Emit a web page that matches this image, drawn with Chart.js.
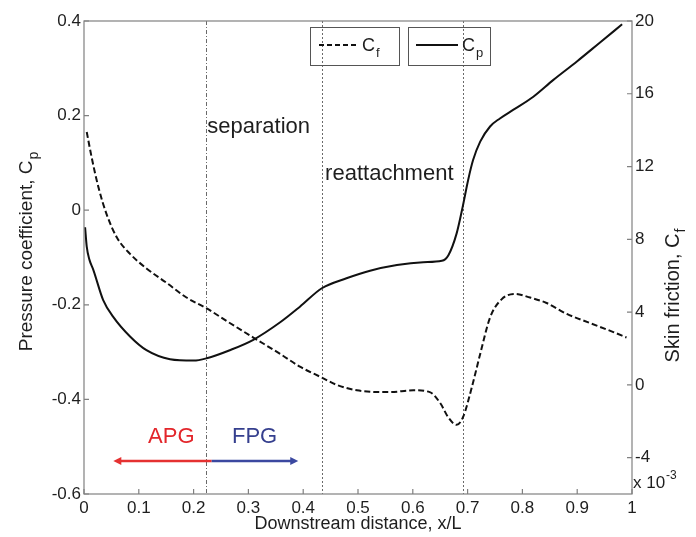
<!DOCTYPE html>
<html>
<head>
<meta charset="utf-8">
<script src="https://cdn.jsdelivr.net/npm/chart.js@4"></script>
<style>
  html, body { margin: 0; padding: 0; background: #fff; }
  #wrap { width: 696px; height: 537px; }
</style>
</head>
<body>
<div id="wrap"><canvas id="chart" width="696" height="537"></canvas></div>
<script>
// pressure coefficient along the plate
const cpX = [0.002, 0.005, 0.01, 0.017, 0.035, 0.053, 0.084, 0.114, 0.157, 0.2, 0.224, 0.266, 0.309, 0.358, 0.394, 0.434, 0.479, 0.522, 0.571, 0.619, 0.653, 0.665, 0.68, 0.691, 0.701, 0.71, 0.723, 0.741, 0.759, 0.783, 0.82, 0.856, 0.9, 0.94, 0.982];
const cpY = [-0.036, -0.077, -0.105, -0.126, -0.19, -0.225, -0.267, -0.296, -0.315, -0.318, -0.313, -0.296, -0.274, -0.237, -0.204, -0.165, -0.144, -0.128, -0.116, -0.11, -0.107, -0.095, -0.049, 0.007, 0.064, 0.106, 0.145, 0.177, 0.194, 0.212, 0.24, 0.275, 0.315, 0.353, 0.393];

// skin friction, in units of 1e-3
const cfX = [0.005, 0.014, 0.026, 0.041, 0.06, 0.084, 0.114, 0.151, 0.187, 0.224, 0.266, 0.309, 0.358, 0.394, 0.434, 0.461, 0.498, 0.558, 0.601, 0.631, 0.65, 0.665, 0.68, 0.692, 0.708, 0.723, 0.741, 0.762, 0.786, 0.814, 0.844, 0.881, 0.923, 0.966, 0.99];
const cfY = [13.9, 12.5, 10.9, 9.4, 8.1, 7.2, 6.4, 5.6, 4.8, 4.2, 3.4, 2.6, 1.7, 1.0, 0.4, 0.0, -0.3, -0.4, -0.3, -0.4, -1.0, -1.8, -2.2, -1.75, -0.1, 1.7, 3.7, 4.7, 5.0, 4.8, 4.5, 3.9, 3.4, 2.9, 2.6];

const cfTicks = [-4, 0, 4, 8, 12, 16, 20];

// separation / reattachment / end of bubble
const refLines = [0.222, 0.435, 0.691];
const labels = [
  { text: 'separation', x: 0.225, y: 0.163 },
  { text: 'reattachment', x: 0.44, y: 0.064 }
];
const gradLabels = [
  { text: 'APG', x: 0.117, y: -0.492, color: '#e3262b' },
  { text: 'FPG', x: 0.27, y: -0.492, color: '#353f8e' }
];
const arrowY = -0.53;
const arrowFrom = 0.0535, arrowSplit = 0.233, arrowTo = 0.391;

const FONT = '"Liberation Sans", Arial, sans-serif';
const INK = '#1e1e1e';
const AXIS = '#808080';

const toPts = (xs, ys) => xs.map((x, i) => ({ x, y: ys[i] }));
const fmt = v => String(Number(v.toFixed(1)));

// text with a subscript, drawn from (x, y) on the baseline
function subText(ctx, x, y, main, sub, size, subSize, drop, center) {
  ctx.font = size + 'px ' + FONT;
  const w1 = ctx.measureText(main).width;
  ctx.font = subSize + 'px ' + FONT;
  const w2 = ctx.measureText(sub).width;
  let x0 = center ? x - (w1 + w2) / 2 : x;
  ctx.textAlign = 'left';
  ctx.textBaseline = 'alphabetic';
  ctx.font = size + 'px ' + FONT;
  ctx.fillText(main, x0, y);
  ctx.font = subSize + 'px ' + FONT;
  ctx.fillText(sub, x0 + w1 + 1, y + drop);
}

function arrowHead(ctx, x, y, dir, color) {
  ctx.fillStyle = color;
  ctx.beginPath();
  ctx.moveTo(x, y);
  ctx.lineTo(x - dir * 8, y - 4);
  ctx.lineTo(x - dir * 8, y + 4);
  ctx.closePath();
  ctx.fill();
}

const decor = {
  id: 'decor',
  beforeDatasetsDraw(chart) {
    const { ctx, chartArea: a, scales } = chart;
    const xs = scales.x, ys = scales.y;
    ctx.save();
    ctx.strokeStyle = '#6a6a6a';
    ctx.lineWidth = 1;
    refLines.forEach((v, i) => {
      const px = Math.round(xs.getPixelForValue(v)) + 0.5;
      ctx.setLineDash(i === 0 ? [4, 2, 1, 2] : [2, 2]);
      ctx.beginPath();
      ctx.moveTo(px, a.top);
      ctx.lineTo(px, a.bottom);
      ctx.stroke();
    });
    ctx.setLineDash([]);

    ctx.fillStyle = INK;
    ctx.font = '22px ' + FONT;
    ctx.textAlign = 'left';
    ctx.textBaseline = 'alphabetic';
    labels.forEach(l => ctx.fillText(l.text, xs.getPixelForValue(l.x), ys.getPixelForValue(l.y)));
    gradLabels.forEach(l => {
      ctx.fillStyle = l.color;
      ctx.fillText(l.text, xs.getPixelForValue(l.x), ys.getPixelForValue(l.y));
    });

    // adverse / favourable pressure gradient arrow
    const ay = ys.getPixelForValue(arrowY);
    const x0 = xs.getPixelForValue(arrowFrom);
    const x1 = xs.getPixelForValue(arrowSplit);
    const x2 = xs.getPixelForValue(arrowTo);
    ctx.lineWidth = 2.5;
    ctx.strokeStyle = '#e53131';
    ctx.beginPath(); ctx.moveTo(x0 + 4, ay); ctx.lineTo(x1, ay); ctx.stroke();
    ctx.strokeStyle = '#3b48a0';
    ctx.beginPath(); ctx.moveTo(x1, ay); ctx.lineTo(x2 - 4, ay); ctx.stroke();
    arrowHead(ctx, x0, ay, -1, '#e53131');
    arrowHead(ctx, x2, ay, 1, '#3b48a0');
    ctx.restore();
  },
  afterDraw(chart) {
    const { ctx, chartArea: a, scales } = chart;
    ctx.save();
    // axes box and inward ticks
    ctx.strokeStyle = AXIS;
    ctx.lineWidth = 1.2;
    ctx.strokeRect(a.left, a.top, a.right - a.left, a.bottom - a.top);
    ctx.beginPath();
    scales.x.ticks.forEach(t => {
      const px = scales.x.getPixelForValue(t.value);
      ctx.moveTo(px, a.bottom); ctx.lineTo(px, a.bottom - 5);
    });
    scales.y.ticks.forEach(t => {
      const py = scales.y.getPixelForValue(t.value);
      ctx.moveTo(a.left, py); ctx.lineTo(a.left + 5, py);
    });
    scales.y1.ticks.forEach(t => {
      const py = scales.y1.getPixelForValue(t.value);
      ctx.moveTo(a.right, py); ctx.lineTo(a.right - 5, py);
    });
    ctx.stroke();

    // legend boxes
    ctx.strokeStyle = '#555';
    ctx.lineWidth = 1;
    ctx.strokeRect(310.5, 27.5, 89, 38);
    ctx.strokeRect(408.5, 27.5, 82, 38);
    ctx.strokeStyle = '#111';
    ctx.lineWidth = 2;
    ctx.setLineDash([5, 3]);
    ctx.beginPath(); ctx.moveTo(319, 45); ctx.lineTo(359, 45); ctx.stroke();
    ctx.setLineDash([]);
    ctx.beginPath(); ctx.moveTo(416, 45); ctx.lineTo(458, 45); ctx.stroke();
    ctx.fillStyle = INK;
    subText(ctx, 362, 51, 'C', 'f', 18, 13, 6, false);
    subText(ctx, 462, 51, 'C', 'p', 18, 13, 6, false);

    // axis titles
    ctx.font = '18px ' + FONT;
    ctx.textAlign = 'center';
    ctx.textBaseline = 'middle';
    ctx.fillText('Downstream distance, x/L', (a.left + a.right) / 2, 524);

    ctx.save();
    ctx.translate(32, 252);
    ctx.rotate(-Math.PI / 2);
    subText(ctx, 0, 0, 'Pressure coefficient, C', 'p', 19, 14, 6, true);
    ctx.restore();

    ctx.save();
    ctx.translate(679, 296);
    ctx.rotate(-Math.PI / 2);
    subText(ctx, 0, 0, 'Skin friction, C', 'f', 20, 14, 6, true);
    ctx.restore();

    // exponent of the right axis
    ctx.font = '17px ' + FONT;
    ctx.textAlign = 'left';
    ctx.textBaseline = 'alphabetic';
    ctx.fillText('x 10', 633, 488);
    ctx.font = '12px ' + FONT;
    ctx.fillText('-3', 666, 479);
    ctx.restore();
  }
};

const tickFont = { family: FONT, size: 17 };

new Chart(document.getElementById('chart'), {
  type: 'line',
  data: {
    datasets: [
      {
        label: 'Cp',
        data: toPts(cpX, cpY),
        yAxisID: 'y',
        borderColor: '#111',
        borderWidth: 2,
        pointRadius: 0,
        cubicInterpolationMode: 'monotone',
        fill: false
      },
      {
        label: 'Cf',
        data: toPts(cfX, cfY),
        yAxisID: 'y1',
        borderColor: '#111',
        borderWidth: 2,
        borderDash: [6, 3],
        pointRadius: 0,
        cubicInterpolationMode: 'monotone',
        fill: false
      }
    ]
  },
  options: {
    responsive: false,
    animation: false,
    layout: { padding: { top: 21, left: 0, right: 0, bottom: 0 } },
    plugins: { legend: { display: false }, tooltip: { enabled: false } },
    scales: {
      x: {
        type: 'linear',
        min: 0,
        max: 1,
        ticks: { stepSize: 0.1, color: INK, font: tickFont, padding: 4, maxRotation: 0, autoSkip: false, callback: fmt },
        grid: { display: false, drawTicks: false },
        border: { display: false },
        afterFit: s => { s.height = 43; }
      },
      y: {
        position: 'left',
        min: -0.6,
        max: 0.4,
        ticks: { stepSize: 0.2, color: INK, font: tickFont, padding: 3, callback: fmt },
        grid: { display: false, drawTicks: false },
        border: { display: false },
        afterFit: s => { s.width = 84; }
      },
      y1: {
        position: 'right',
        min: -6,
        max: 20,
        afterBuildTicks: s => { s.ticks = cfTicks.map(v => ({ value: v })); },
        ticks: { color: INK, font: tickFont, padding: 3, callback: v => String(v) },
        grid: { display: false, drawTicks: false },
        border: { display: false },
        afterFit: s => { s.width = 64; }
      }
    }
  },
  plugins: [decor]
});
</script>
</body>
</html>
